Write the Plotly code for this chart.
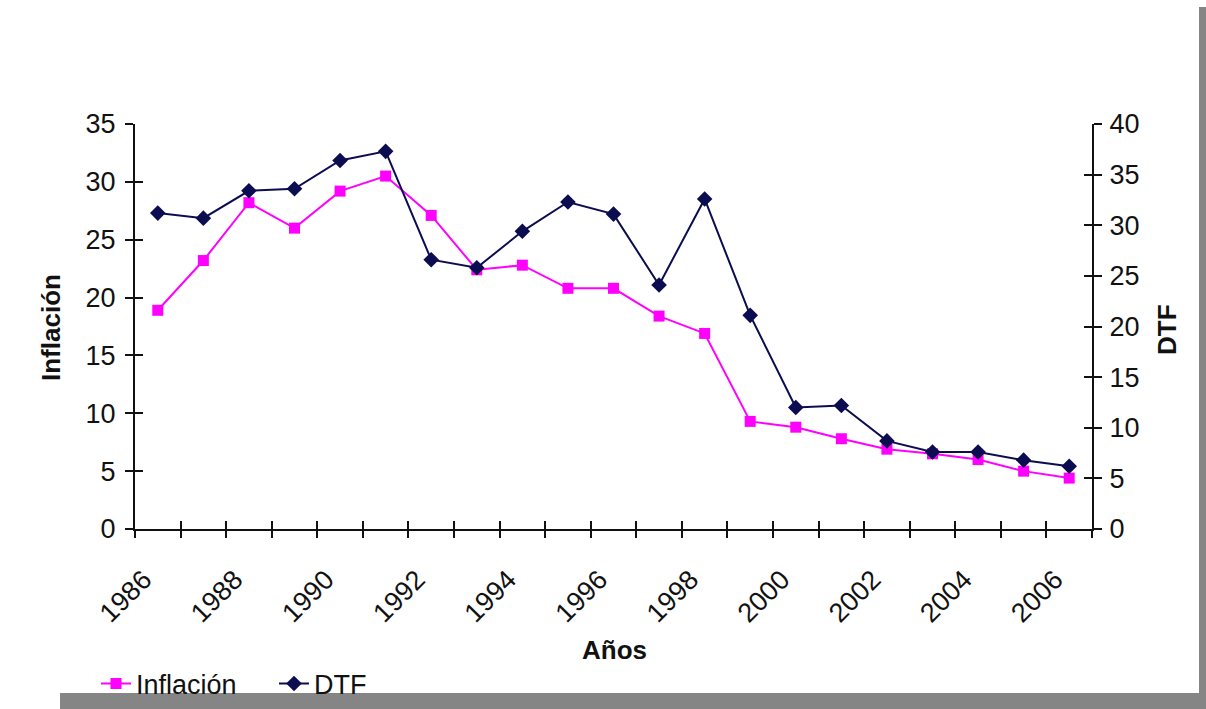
import plotly.graph_objects as go

# Annual series, 1986-2006
years = list(range(1986, 2007))
inflacion = [18.9, 23.2, 28.2, 26.0, 29.2, 30.5, 27.1, 22.4, 22.8, 20.8, 20.8,
             18.4, 16.9, 9.3, 8.8, 7.8, 6.9, 6.5, 6.0, 5.0, 4.4]
dtf = [31.2, 30.7, 33.4, 33.6, 36.4, 37.3, 26.6, 25.8, 29.4, 32.3, 31.1,
       24.1, 32.6, 21.1, 12.0, 12.2, 8.7, 7.6, 7.6, 6.8, 6.2]

# Tick labels on the year axis (every other year)
year_labels = [str(y) for y in range(1986, 2007, 2)]
label_positions = list(range(1986, 2007, 2))
# Category boundaries for the year axis tick marks
boundaries = [y - 0.5 for y in years] + [years[-1] + 0.5]

W, H = 1206, 709
FONT = "Liberation Sans, Arial, sans-serif"
INK = "#111111"


def px_x(p):
    return p / W


def px_y(p):
    return 1 - p / H


dom_x = [px_x(135), px_x(1092)]
dom_y = [px_y(529), px_y(124)]
xr = [years[0] - 0.5, years[-1] + 0.5]

fig = go.Figure()
fig.add_trace(go.Scatter(
    x=years, y=inflacion, name="Inflación", mode="lines+markers",
    line=dict(color="#ff00ff", width=2),
    marker=dict(symbol="square", size=11, color="#ff00ff"),
    xaxis="x", yaxis="y",
))
fig.add_trace(go.Scatter(
    x=years, y=dtf, name="DTF", mode="lines+markers",
    line=dict(color="#0c0c50", width=2),
    marker=dict(symbol="diamond", size=12, color="#0c0c50"),
    xaxis="x", yaxis="y2",
))
# Empty helper traces so the tick-only overlay axes get drawn
for xa, ya in (("x2", "y3"), ("x3", "y4")):
    fig.add_trace(go.Scatter(x=[None], y=[None], mode="markers", showlegend=False,
                             hoverinfo="skip", xaxis=xa, yaxis=ya))

tick_font = dict(family=FONT, size=27, color=INK)
common = dict(tickcolor=INK, tickwidth=2, ticklen=8, automargin=False,
              showgrid=False, zeroline=False, fixedrange=True)

fig.update_layout(
    width=W, height=H,
    margin=dict(l=0, r=0, t=0, b=0),
    paper_bgcolor="white", plot_bgcolor="white",
    showlegend=True,
    legend=dict(
        orientation="h", x=px_x(96), y=px_y(684), xanchor="left", yanchor="middle",
        font=dict(family=FONT, size=27, color=INK),
        bgcolor="rgba(0,0,0,0)", traceorder="normal",
        entrywidth=133, entrywidthmode="pixels",
    ),
    xaxis=dict(
        domain=dom_x, range=xr, anchor="y",
        tickmode="array", tickvals=label_positions, ticktext=year_labels,
        tickangle=-45, ticks="", tickfont=tick_font,
        ticklabelstandoff=22, ticklabelshift=-14,
        showline=True, linecolor=INK, linewidth=2,
        **{k: v for k, v in common.items() if k != "ticklen"},
    ),
    xaxis2=dict(
        domain=dom_x, range=xr, anchor="y", overlaying="x",
        tickmode="array", tickvals=boundaries, showticklabels=False,
        ticks="outside", showline=False, **common,
    ),
    xaxis3=dict(
        domain=dom_x, range=xr, anchor="y", overlaying="x",
        tickmode="array", tickvals=boundaries, showticklabels=False,
        ticks="inside", showline=False, **common,
    ),
    yaxis=dict(
        domain=dom_y, range=[0, 35], dtick=5, anchor="x",
        ticks="outside", tickfont=tick_font, ticklabelstandoff=4,
        showline=True, linecolor=INK, linewidth=2, **common,
    ),
    yaxis2=dict(
        domain=dom_y, range=[0, 40], dtick=5, anchor="x", overlaying="y", side="right",
        ticks="outside", tickfont=tick_font, ticklabelstandoff=2,
        showline=True, linecolor=INK, linewidth=2, **common,
    ),
    yaxis3=dict(
        domain=dom_y, range=[0, 35], dtick=5, anchor="x", overlaying="y",
        ticks="inside", showticklabels=False, showline=False, **common,
    ),
    yaxis4=dict(
        domain=dom_y, range=[0, 40], dtick=5, anchor="x", overlaying="y", side="right",
        ticks="inside", showticklabels=False, showline=False, **common,
    ),
)

# Axis titles
title_font = dict(family=FONT, size=26, color=INK)
fig.add_annotation(text="<b>Inflación</b>", xref="paper", yref="paper",
                   x=px_x(51), y=px_y(328), xanchor="center", yanchor="middle",
                   textangle=-90, showarrow=False, font=title_font)
fig.add_annotation(text="<b>DTF</b>", xref="paper", yref="paper",
                   x=px_x(1167), y=px_y(330), xanchor="center", yanchor="middle",
                   textangle=-90, showarrow=False, font=title_font)
fig.add_annotation(text="<b>Años</b>", xref="paper", yref="paper",
                   x=px_x(614), y=px_y(650), xanchor="center", yanchor="middle",
                   showarrow=False, font=title_font)

# Shadow frame along the right and bottom edges
fig.add_shape(type="rect", xref="paper", yref="paper",
              x0=px_x(1199), x1=1, y0=0, y1=px_y(7),
              fillcolor="#858585", line=dict(width=0), layer="above")
fig.add_shape(type="rect", xref="paper", yref="paper",
              x0=px_x(60), x1=1, y0=0, y1=px_y(693),
              fillcolor="#858585", line=dict(width=0), layer="above")

fig.write_html("out.html")
